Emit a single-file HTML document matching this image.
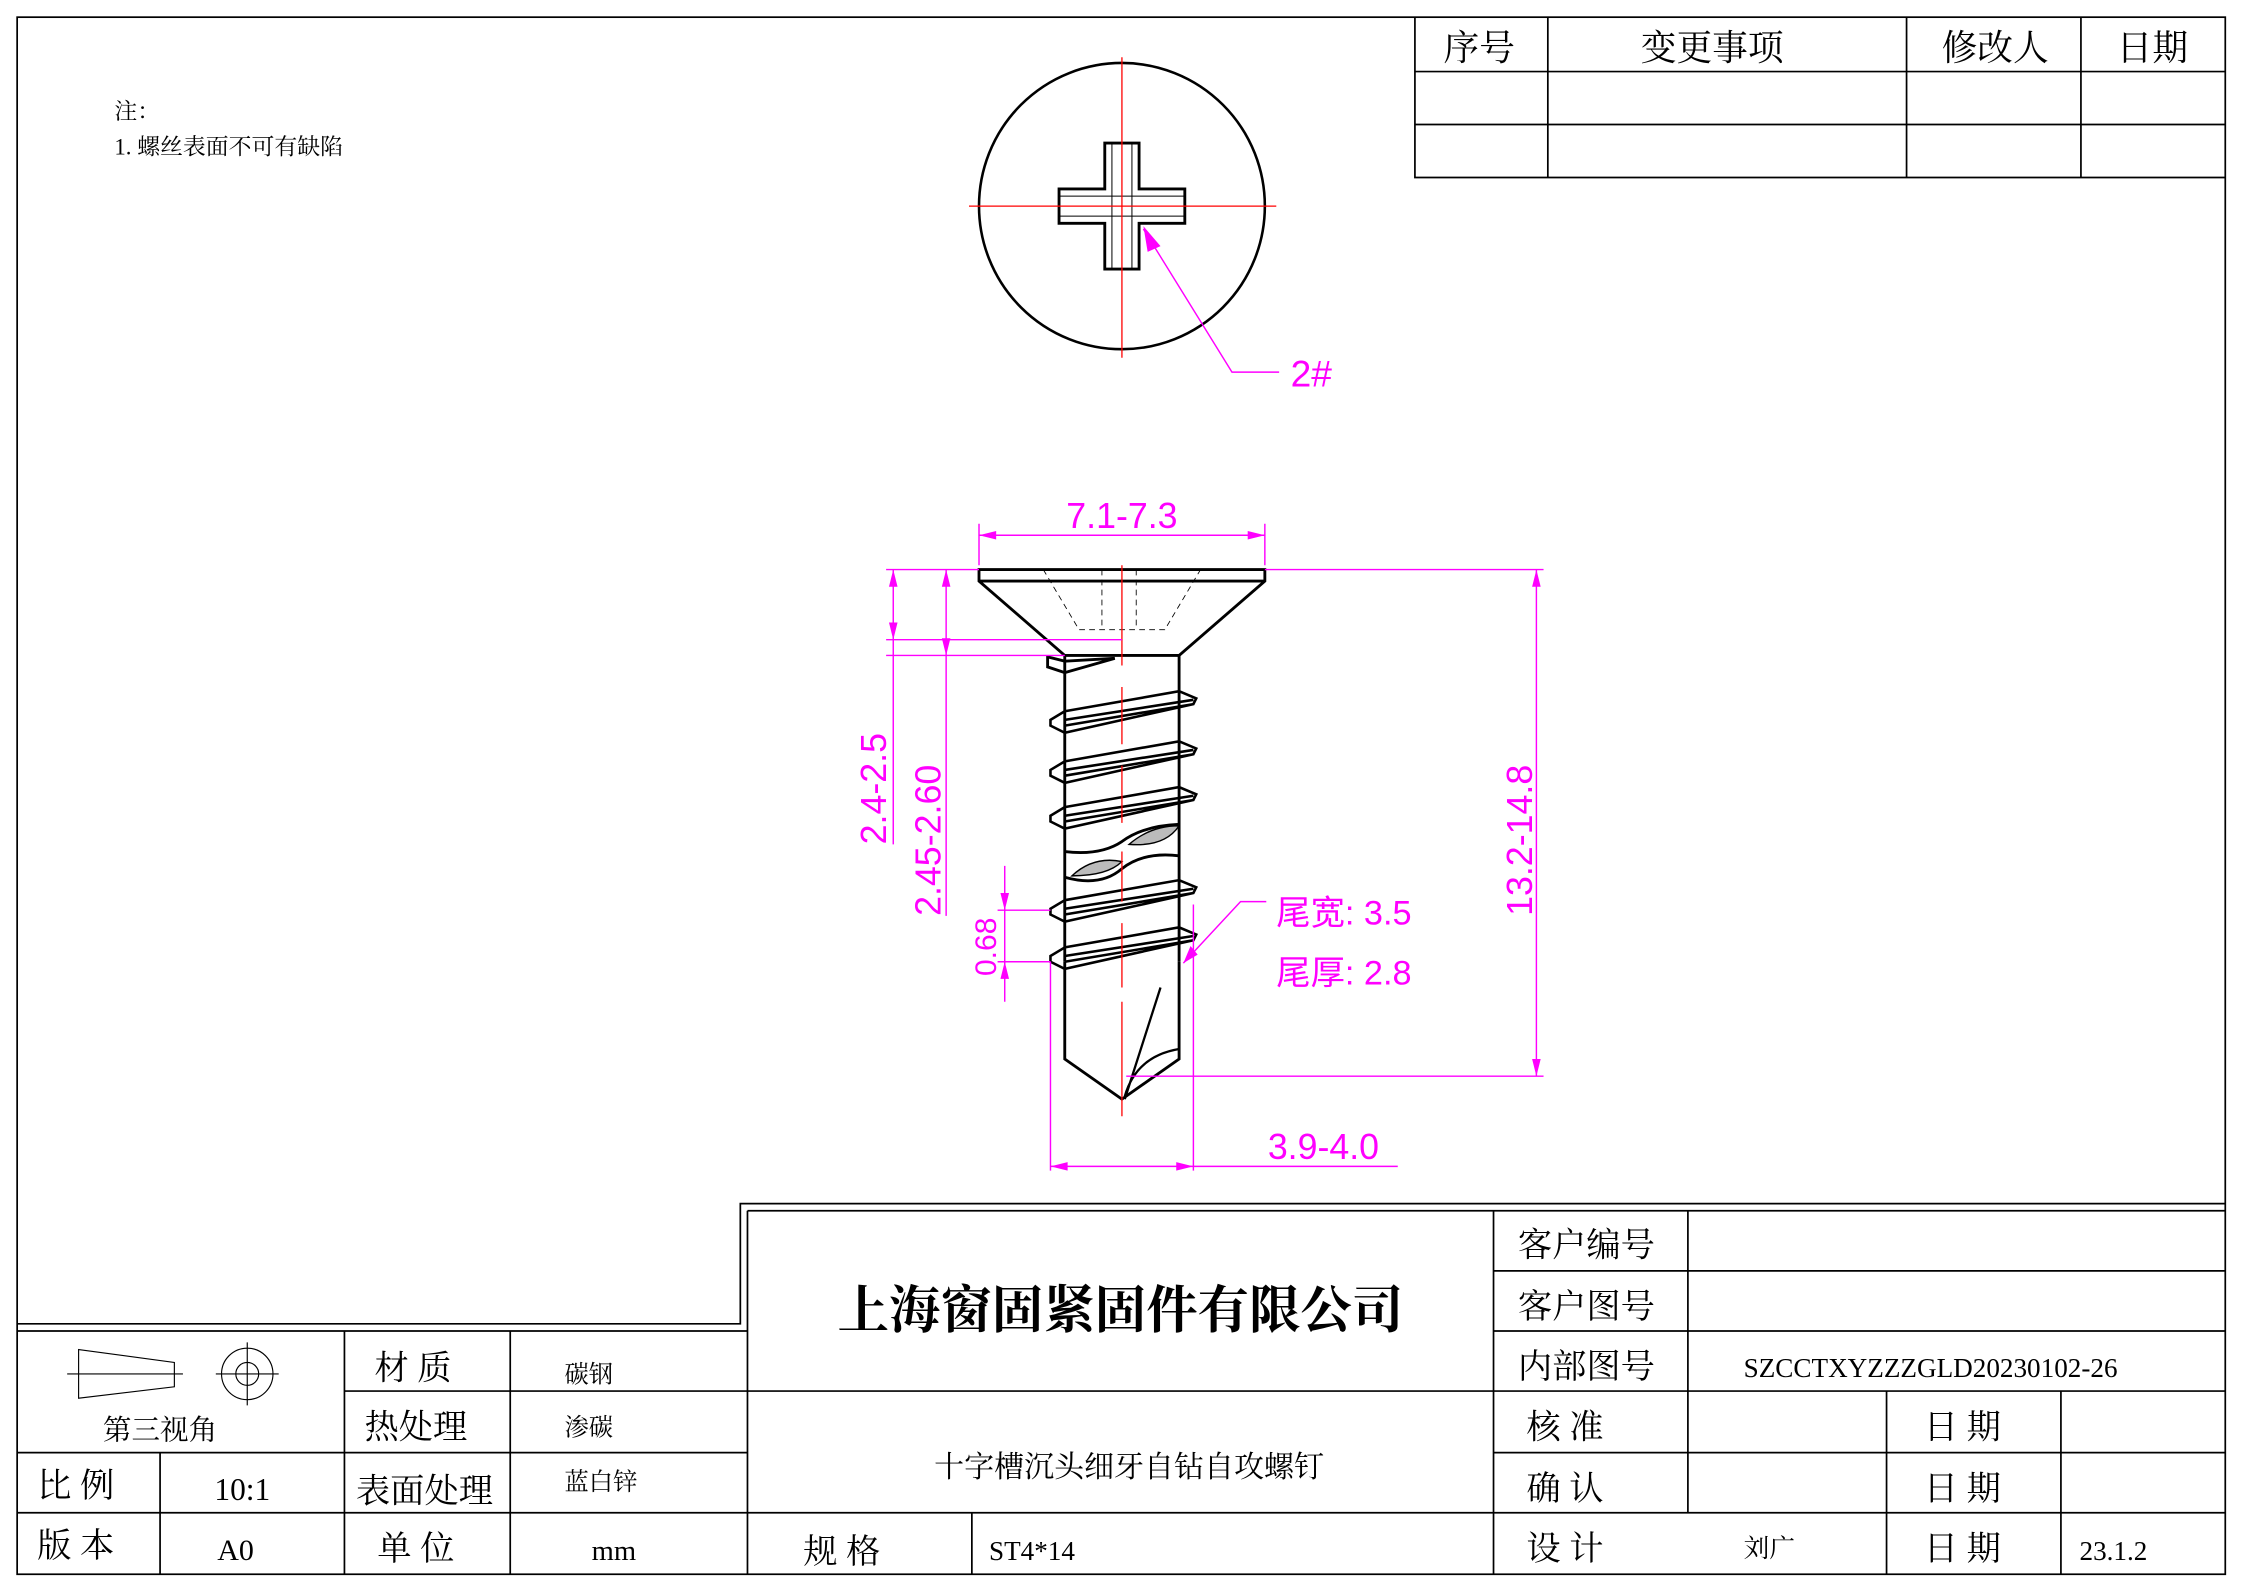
<!DOCTYPE html>
<html><head><meta charset="utf-8"><style>
html,body{margin:0;padding:0;background:#fff}
svg{display:block}
text{font-family:"Liberation Serif","Noto Serif CJK SC",serif;fill:#000}
.m{fill:#f0f;font-family:"Liberation Sans","Noto Sans CJK SC",sans-serif}
</style></head><body>
<svg width="2241" height="1590" viewBox="0 0 1568 1111" preserveAspectRatio="none" xmlns="http://www.w3.org/2000/svg">
<rect width="1568" height="1111" fill="#fff"/>
<g fill="none" stroke="#000" stroke-width="1.2">
<rect x="12" y="12" width="1545" height="1088"/>
<path d="M990 12V124H1557M990 50H1557M990 87H1557M1083 12V124M1334 12V124M1456 12V124"/>
<path d="M12 925H518V841H1557M523 846H1557M523 846V1100M12 930H523M12 1015H523M12 1057H1557M241 972H523M112 1015V1100M241 930V1100M357 930V1100M523 972H1557M1045 846V1100M1181 846V1057M1045 888H1557M1045 930H1557M1045 1015H1557M1320 972V1100M1442 972V1100M680 1057V1100"/>
<path d="M55 943L122 952V969L55 977Z M47 960H128" stroke-width="0.8"/>
<circle cx="173" cy="960" r="18" stroke-width="0.8"/><circle cx="173" cy="960" r="8" stroke-width="0.8"/>
<path d="M151 960H195M173 938V982" stroke-width="0.8"/>
</g>
<text x="80" y="83" font-size="16">注：</text>
<text x="80" y="108" font-size="16">1. 螺丝表面不可有缺陷</text>
<g font-size="25" text-anchor="middle"><text x="1035" y="42">序号</text><text x="1198" y="42">变更事项</text><text x="1396" y="42">修改人</text><text x="1506" y="42">日期</text></g>
<circle cx="785" cy="144" r="100" fill="none" stroke="#000" stroke-width="1.8"/>
<path d="M773 100H797V132H829V156H797V188H773V156H741V132H773Z" fill="none" stroke="#000" stroke-width="2"/>
<path d="M778 100V188M792 100V188M741 137H829M741 151H829" stroke="#000" stroke-width="0.7"/>
<path d="M678 144H893M785 40V250" stroke="#f00" stroke-width="0.9"/>
<path d="M800 160L862 260H895" fill="none" stroke="#f0f" stroke-width="1"/>
<path d="M800 158L812 172L803 176Z" fill="#f0f"/>
<text class="m" x="903" y="270" font-size="26">2#</text>
<g fill="none" stroke="#000" stroke-width="2">
<path d="M685 398H885V406L825 458H745L685 406Z"/>
<path d="M685 406H885"/>
<path d="M745 458V672M825 458V672"/>
<path d="M745 672V740L785 768L825 740V672"/>
<path d="M787 768L812 690M787 766Q795 738 825 733" stroke-width="1.6"/>
<path d="M745 613Q770 620 785 607Q800 595 825 598M745 595Q770 598 785 588Q800 577 825 576"/>
</g>
<path d="M733 459L745 462L780 460L745 470L733 466Z" fill="none" stroke="#000" stroke-width="2"/>
<g fill="none" stroke="#000" stroke-width="1.8">
<path d="M745 497L825 483L837 488L835 492L745 512L735 507L735 503Z M745 503L835 489M745 507L835 492"/>
<path d="M745 532L825 518L837 523L835 527L745 547L735 542L735 538Z M745 538L835 524M745 542L835 527"/>
<path d="M745 564L825 550L837 555L835 559L745 579L735 574L735 570Z M745 570L835 556M745 574L835 559"/>
<path d="M745 629L825 615L837 620L835 624L745 644L735 639L735 635Z M745 635L835 621M745 639L835 624"/>
<path d="M745 662L825 648L837 653L835 657L745 677L735 672L735 668Z M745 668L835 654M745 672L835 657"/>
</g>
<path d="M790 590Q805 577 825 577Q815 592 790 590Z M750 612Q765 598 785 602Q775 612 750 612Z" fill="#bbb" stroke="#000" stroke-width="1"/>
<path d="M730 398L755 440H815L840 398M771 398V440M795 398V440" fill="none" stroke="#000" stroke-width="0.6" stroke-dasharray="4 3"/>
<path d="M785 395V465M785 480V520M785 535V575M785 595V630M785 645V690M785 700V780" stroke="#f00" stroke-width="0.9"/>
<g stroke="#f0f" stroke-width="1" fill="none">
<path d="M685 395V366M885 395V366M685 374H885"/>
<path d="M885 398H1080M1075 398V752M788 752H1080"/>
<path d="M620 398H685M620 447H785M620 458H745M625 398V590M662 398V640"/>
<path d="M735 672V818M835 632V818M735 815H835H978"/>
<path d="M703 605V700M698 636H735M698 672H735"/>
<path d="M828 673L868 630H886"/>
</g>
<g fill="#f0f">
<path d="M685 374l12-3v6zM885 374l-12-3v6z"/>
<path d="M1075 398l-3 12h6zM1075 752l-3-12h6z"/>
<path d="M625 398l-3 12h6zM625 447l-3-12h6zM662 398l-3 12h6zM662 458l-3-12h6z"/>
<path d="M735 815l12-3v6zM835 815l-12-3v6z"/>
<path d="M703 636l-3-12h6zM703 672l-3 12h6z"/>
<path d="M828 673l5-12 5 6z"/>
</g>
<text class="m" x="785" y="369" font-size="25" text-anchor="middle">7.1-7.3</text>
<text class="m" x="926" y="810" font-size="25" text-anchor="middle">3.9-4.0</text>
<text class="m" font-size="25" transform="translate(620 590) rotate(-90)">2.4-2.5</text>
<text class="m" font-size="25" transform="translate(658 640) rotate(-90)">2.45-2.60</text>
<text class="m" font-size="25" transform="translate(1072 640) rotate(-90)">13.2-14.8</text>
<text class="m" font-size="21" transform="translate(697 682) rotate(-90)">0.68</text>
<text class="m" x="893" y="646" font-size="24">尾宽: 3.5</text>
<text class="m" x="893" y="688" font-size="24">尾厚: 2.8</text>
<text x="784" y="928" font-size="36" font-weight="bold" text-anchor="middle" font-family="'Noto Serif CJK SC',serif">上海窗固紧固件有限公司</text>
<text x="790" y="1032" font-size="21" text-anchor="middle">十字槽沉头细牙自钻自攻螺钉</text>
<g font-size="24">
<text x="262" y="964">材 质</text><text x="255" y="1005">热处理</text><text x="249" y="1050">表面处理</text><text x="264" y="1090">单 位</text>
<text x="26" y="1046">比 例</text><text x="26" y="1088">版 本</text>
<text x="562" y="1092">规  格</text>
<text x="1062" y="878">客户编号</text><text x="1062" y="921">客户图号</text><text x="1062" y="963">内部图号</text>
<text x="1068" y="1005">核  准</text><text x="1068" y="1048">确  认</text><text x="1068" y="1090">设  计</text>
<text x="1346" y="1005">日 期</text><text x="1346" y="1048">日 期</text><text x="1346" y="1090">日 期</text>
</g>
<text x="72" y="1006" font-size="20">第三视角</text>
<g font-size="17"><text x="395" y="966">碳钢</text><text x="395" y="1003">渗碳</text><text x="395" y="1041">蓝白锌</text></g>
<text x="150" y="1048" font-size="22">10:1</text>
<text x="152" y="1090" font-size="21">A0</text>
<text x="414" y="1090" font-size="20">mm</text>
<text x="692" y="1090" font-size="19">ST4*14</text>
<text x="1220" y="962" font-size="19">SZCCTXYZZZGLD20230102-26</text>
<text x="1220" y="1088" font-size="18">刘广</text>
<text x="1455" y="1090" font-size="19">23.1.2</text>
</svg>
</body></html>
